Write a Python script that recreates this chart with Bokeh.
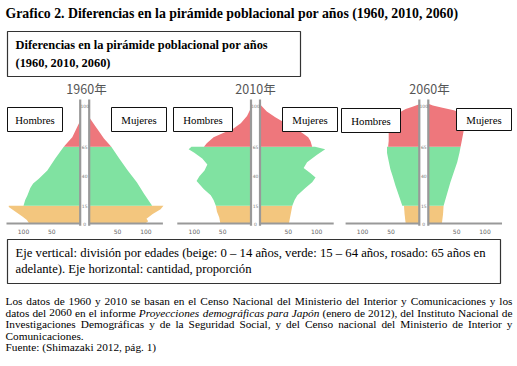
from bokeh.plotting import figure
from bokeh.models import Range1d
from bokeh.core.properties import value
from bokeh.embed import file_html
from bokeh.resources import INLINE

# ---------------- data (population, arbitrary units; ticks at 50 / 100) ----------------
YEARS = ["1960年", "2010年", "2060年"]
AGE_TICKS = [0, 15, 40, 65, 100]
X_TICKS = [50, 100]
BAND_COLORS = ["#F3C67E", "#80E2A1", "#EE777C"]   # 0-14, 15-64, 65+

M1960_AGE = [0, 3, 6, 10, 14, 15, 15, 20, 24, 30, 34, 38, 45, 55, 65, 65, 70, 73, 80, 87]
M1960_VAL = [90, 94, 102, 114, 126, 126, 100, 97, 93, 88, 83, 73, 58, 44, 29, 29, 20, 14, 7, 0]
F1960_AGE = [0, 2, 4, 8, 12, 15, 15, 25, 35, 45, 55, 65, 65, 72, 77, 83, 90]
F1960_VAL = [99, 104, 101, 112, 126, 131, 111, 97, 84, 68, 53, 39, 39, 26, 19, 10, 0]

M2010_AGE = [0, 5, 10, 15, 15, 20, 24, 29, 36, 40, 45, 50, 55, 60, 63, 65, 65, 68, 73, 77, 80, 85, 91, 96, 100]
M2010_VAL = [54, 56, 60, 62, 62, 66, 71, 83, 96, 91, 82, 77, 86, 100, 110, 105, 83, 78, 66, 48, 32, 18, 7, 2, 0]
F2010_AGE = [0, 5, 10, 15, 15, 20, 24, 30, 35, 39, 43, 47, 52, 58, 63, 65, 65, 70, 73, 77, 80, 85, 90, 95, 100]
F2010_VAL = [51, 53, 55, 57, 57, 61, 66, 80, 92, 98, 88, 77, 83, 100, 115, 97, 92, 89, 85, 74, 63, 45, 27, 12, 2]

M2060_AGE = [0, 8, 15, 15, 25, 32, 40, 46, 55, 60, 65, 65, 70, 80, 85, 90, 94, 97, 99, 101]
M2060_VAL = [24, 26, 27, 30, 37, 42, 47, 51, 55, 57, 57, 55, 54, 54, 50, 43, 35, 24, 12, 0]
F2060_AGE = [0, 8, 15, 15, 25, 35, 45, 52, 60, 65, 65, 70, 75, 80, 85, 90, 94, 96, 98, 100, 101.5]
F2060_VAL = [24, 26, 27, 27, 33, 39, 46, 51, 55, 57, 57, 59, 61, 63, 64, 62, 56, 45, 25, 8, 0]

PROFILES = [
    ((M1960_AGE, M1960_VAL), (F1960_AGE, F1960_VAL)),
    ((M2010_AGE, M2010_VAL), (F2010_AGE, F2010_VAL)),
    ((M2060_AGE, M2060_VAL), (F2060_AGE, F2060_VAL)),
]

TITLE = "Grafico 2.  Diferencias en la pirámide poblacional por años (1960, 2010, 2060)"
BOX_TITLE = ["Diferencias en la pirámide poblacional por años", "(1960, 2010, 2060)"]
CAPTION = ["Eje vertical: división por edades  (beige: 0 – 14 años,  verde: 15 – 64 años, rosado: 65 años en",
           "adelante). Eje horizontal: cantidad, proporción"]
NOTE1 = [("Los datos de 1960 y 2010 se basan en el Censo Nacional del Ministerio del Interior y Comunicaciones y los", "normal")]
NOTE2 = [("datos del 2060 en el informe", "normal"), ("Proyecciones demográficas para Japón", "italic"),
         ("(enero de 2012), del Instituto Nacional de", "normal")]
NOTE3 = [("Investigaciones Demográficas y de la Seguridad Social, y del Censo nacional del Ministerio de Interior y", "normal")]
NOTE4 = "Comunicaciones."
NOTE5 = "Fuente: (Shimazaki 2012, pág. 1)"

# ---------------- layout (page coordinates) ----------------
W, H = 517, 366
X0, X1 = 0, 517
Y0, Y1 = 366, 0
CENTERS = [84.2, 255.0, 423.3]
YEAR_X = [86, 255, 429]
HALF_GAP = 4.5
PX = 0.567      # page px per population unit
PY = 1.18       # page px per year of age
BASE_Y = 223    # page y of age 0
SERIF = "Liberation Serif"
SANS = "Noto Sans CJK JP"

p = figure(width=W, height=H, x_range=Range1d(X0, X1), y_range=Range1d(Y0, Y1),
           x_axis_type=None, y_axis_type=None, toolbar_location=None,
           output_backend="svg", min_border=0, outline_line_color=None,
           background_fill_color="white", border_fill_color="white")
p.xgrid.visible = False
p.ygrid.visible = False

p.extra_y_ranges = {"age": Range1d((BASE_Y - Y0) / PY, (BASE_Y - Y1) / PY)}
for i, c in enumerate(CENTERS):
    zl = c - HALF_GAP
    zr = c + HALF_GAP
    p.extra_x_ranges[f"L{i}"] = Range1d((zl - X0) / PX, (zl - X1) / PX)
    p.extra_x_ranges[f"R{i}"] = Range1d((X0 - zr) / PX, (X1 - zr) / PX)


def fs(px):
    return value(f"{px:.2f}px")


def label(x, y, s, size, style="normal", font=SERIF, color="#000000", align="left", **kw):
    p.text(x=[x], y=[y], text=[s], text_font=value(font), text_font_size=fs(size),
           text_font_style=style, text_color=color, text_align=align,
           text_baseline="middle", **kw)


# approximate Times (Liberation Serif) advance widths, 1/1000 em
_REG = dict(zip("abcdefghijklmnopqrstuvwxyz",
                [444, 500, 444, 500, 444, 333, 500, 500, 278, 278, 500, 278, 778,
                 500, 500, 500, 500, 333, 389, 278, 500, 500, 722, 500, 500, 444]))
_REG.update(dict(zip("ABCDEFGHIJKLMNOPQRSTUVWXYZ",
                     [722, 667, 667, 722, 611, 556, 722, 722, 333, 389, 722, 611, 889,
                      722, 722, 556, 722, 667, 556, 611, 722, 722, 944, 722, 722, 611])))
_REG.update({d: 500 for d in "0123456789"})
_REG.update({".": 250, ",": 250, ":": 278, ";": 278, "(": 333, ")": 333, "-": 333, " ": 250})
_ITA = dict(_REG)
_ITA.update(dict(zip("abcdefghijklmnopqrstuvwxyz",
                     [500, 500, 444, 500, 444, 278, 500, 500, 278, 278, 444, 278, 722,
                      500, 500, 500, 500, 389, 389, 278, 500, 444, 667, 444, 444, 389])))
_ITA.update({"P": 611, "J": 444})
_ACC = {"á": "a", "é": "e", "í": "i", "ó": "o", "ú": "u", "ñ": "n"}


def word_width(w, size, style):
    tab = _ITA if style == "italic" else _REG
    return sum(tab.get(_ACC.get(ch, ch), 500) for ch in w) / 1000.0 * size


def justified(y, segments, size, left=5, right=512):
    words = []
    for txt, style in segments:
        for w in txt.split():
            words.append((w, style))
    widths = [word_width(w, size, s) for w, s in words]
    gap = (right - left - sum(widths)) / (len(words) - 1)
    xs, x = [], left
    for wd in widths:
        xs.append(x)
        x += wd + gap
    for style in ("normal", "italic"):
        sel = [k for k, (w, s) in enumerate(words) if s == style]
        if sel:
            p.text(x=[xs[k] for k in sel], y=[y] * len(sel), text=[words[k][0] for k in sel],
                   text_font=value(SERIF), text_font_size=fs(size), text_font_style=style,
                   text_color="#000000", text_align="left", text_baseline="middle")


def split_bands(ages, vals):
    segs = [([], [])]
    for k, (a, v) in enumerate(zip(ages, vals)):
        segs[-1][0].append(a)
        segs[-1][1].append(v)
        if k + 1 < len(ages) and ages[k + 1] == a:
            segs.append(([], []))
    return segs


# pyramids
for i, (male, female) in enumerate(PROFILES):
    for side, (ages, vals) in (("L", male), ("R", female)):
        rn = f"{side}{i}"
        for (a, v), col in zip(split_bands(ages, vals), BAND_COLORS):
            p.harea(x1=[0] * len(a), x2=v, y=a, fill_color=col, fill_alpha=1.0,
                    x_range_name=rn, y_range_name="age")
        # axes
        p.segment(x0=[0], y0=[0], x1=[130], y1=[0], line_color="#999999", line_width=2.2,
                  x_range_name=rn, y_range_name="age")
        p.segment(x0=[0], y0=[-2], x1=[0], y1=[105], line_color="#999999", line_width=2.2,
                  x_range_name=rn, y_range_name="age")
        p.text(x=X_TICKS, y=[-7] * len(X_TICKS), text=[str(t) for t in X_TICKS],
               text_font=value("DejaVu Sans"), text_font_size=fs(6), text_color="#666666",
               text_align="center", text_baseline="middle", x_range_name=rn, y_range_name="age")
    p.text(x=[-HALF_GAP / PX] * len(AGE_TICKS), y=AGE_TICKS, text=[str(t) for t in AGE_TICKS],
           text_font=value("DejaVu Sans"), text_font_size=fs(4.5), text_color="#777777",
           text_align="center", text_baseline="middle", x_range_name=f"L{i}", y_range_name="age")

# Hombres / Mujeres boxes
HOMBRES_BOX = [(7, 62, 107, 131), (173, 232, 107, 131), (341, 400, 108, 132)]
MUJERES_BOX = [(111, 166, 107, 131), (282, 337, 107, 131), (456, 511, 108, 130)]
for boxes, word in ((HOMBRES_BOX, "Hombres"), (MUJERES_BOX, "Mujeres")):
    p.quad(left=[b[0] for b in boxes], right=[b[1] for b in boxes],
           top=[b[2] for b in boxes], bottom=[b[3] for b in boxes],
           fill_color="white", line_color="#111111", line_width=1)
    for b in boxes:
        label((b[0] + b[1]) / 2, (b[2] + b[3]) / 2, word, 10.8, align="center")

for x, yr in zip(YEAR_X, YEARS):
    label(x, 88, yr, 12.5, font=SANS, color="#555555", align="center")

# title and boxes
label(5, 12.5, TITLE, 13.8, style="bold")
p.quad(left=[7], right=[300], top=[31], bottom=[76], fill_color="white",
       line_color="#333333", line_width=1.2)
label(15, 44, BOX_TITLE[0], 12.4, style="bold")
label(15, 62, BOX_TITLE[1], 12.4, style="bold")

p.quad(left=[7], right=[500], top=[239], bottom=[283], fill_color="white",
       line_color="#333333", line_width=1.2)
label(15, 252, CAPTION[0], 12.7)
label(15, 268, CAPTION[1], 12.7)

# footnote (justified lines)
NS = 11.3
justified(300.5, NOTE1, NS)
justified(312, NOTE2, NS)
justified(323.5, NOTE3, NS)
label(5, 335, NOTE4, NS)
label(5, 346.5, NOTE5, NS)

open("out.html", "w").write(file_html(p, INLINE))
